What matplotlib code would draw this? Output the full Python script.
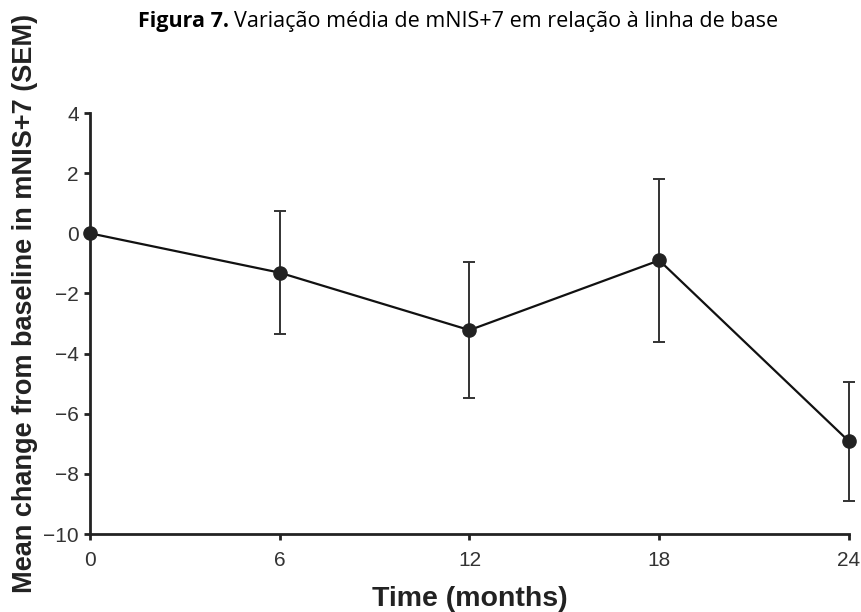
import matplotlib
matplotlib.use("Agg")
import matplotlib.pyplot as plt

months = [0, 6, 12, 18, 24]
mean_change = [0.0, -1.31, -3.22, -0.90, -6.92]
sem = [0.0, 2.05, 2.25, 2.70, 1.98]
x_ticks = [0, 6, 12, 18, 24]
y_ticks = [-10, -8, -6, -4, -2, 0, 2, 4]

plt.rcParams['font.family'] = ['Liberation Sans', 'DejaVu Sans']

fig = plt.figure(figsize=(8.62, 6.12), dpi=100)
ax = fig.add_axes([90 / 862, 78 / 612, 759 / 862, 421 / 612])

ax.errorbar(months, mean_change, yerr=sem, fmt='none', ecolor='#333333',
            elinewidth=1.4, capsize=4.5, capthick=1.4, clip_on=False, zorder=2)
ax.plot(months, mean_change, '-', color='#111111', linewidth=1.6, zorder=3, clip_on=False)
ax.plot(months, mean_change, 'o', color='#222222', markersize=9.5, zorder=4, clip_on=False)

ax.set_xlim(0, 24)
ax.set_ylim(-10, 4)
ax.set_xticks(x_ticks)
ax.set_yticks(y_ticks)
ax.set_yticklabels([str(v).replace('-', '\u2212') for v in y_ticks])

for side in ['top', 'right']:
    ax.spines[side].set_visible(False)
for side in ['left', 'bottom']:
    ax.spines[side].set_linewidth(2.0)
    ax.spines[side].set_color('#222222')

ax.tick_params(axis='both', direction='out', length=4, width=2.0, color='#222222',
               labelsize=15, labelcolor='#333333')
ax.tick_params(axis='x', pad=8)
ax.tick_params(axis='y', pad=4)

ax.set_xlabel('Time (months)', fontsize=20.5, fontweight='bold', color='#222222', labelpad=12)

# y label sits a bit above the axes centre in the reference
fig.text(25 / 862, 1 - 303 / 612, 'Mean change from baseline in mNIS+7 (SEM)',
         fontsize=19.5, fontweight='bold', color='#222222', rotation=90,
         ha='center', va='center')

title_y = 1 - 22 / 612
title_bold = fig.text(138 / 862, title_y, 'Figura 7.', fontsize=15.5,
                      fontweight='bold', family='Open Sans', va='center', ha='left')
fig.canvas.draw()
bb = title_bold.get_window_extent()
fig.text((bb.x1 + 5) / 862, title_y,
         'Variação média de mNIS+7 em relação à linha de base', fontsize=15.5,
         family='Open Sans', va='center', ha='left')

fig.savefig('out.png', dpi=100)
